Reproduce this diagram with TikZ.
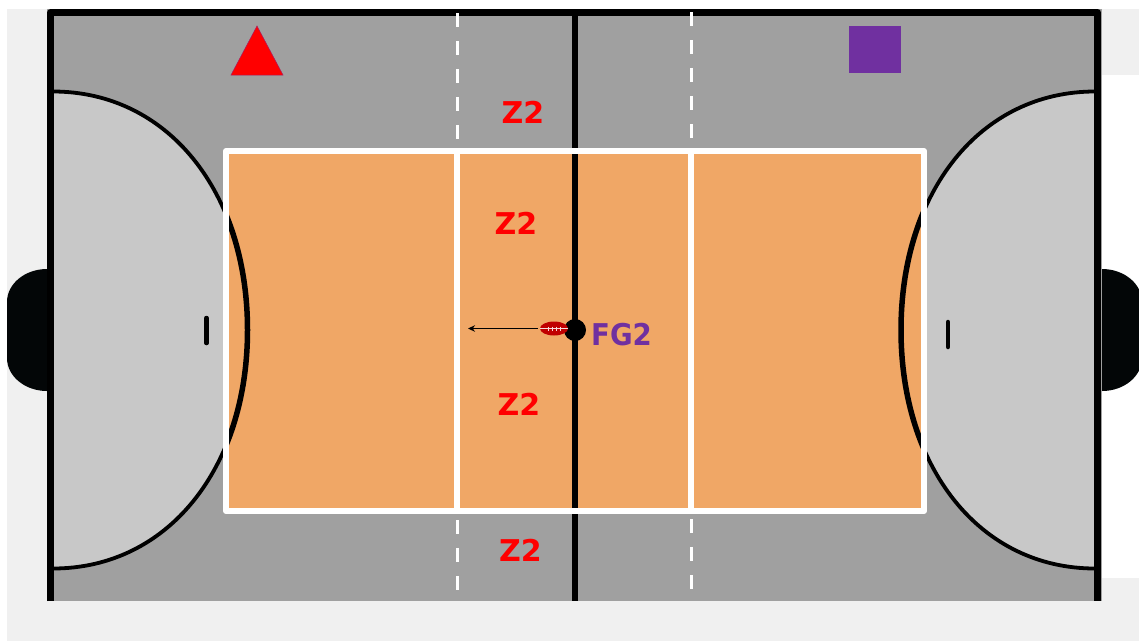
\documentclass[tikz,border=0pt]{standalone}
\usepackage{fontspec}
\setmainfont{DejaVu Sans}
\usetikzlibrary{arrows.meta,shapes.geometric}
\definecolor{pagegrey}{HTML}{F0F0F0}
\definecolor{courtgrey}{HTML}{A0A0A0}
\definecolor{areagrey}{HTML}{C8C8C8}
\definecolor{courtorange}{HTML}{F0A766}
\definecolor{markpurple}{HTML}{7030A0}
\definecolor{goalblack}{HTML}{030607}
\definecolor{ballred}{HTML}{C00000}
\tikzset{
  zonelabel/.style={text=red,font=\bfseries\fontsize{30}{30}\selectfont,inner sep=0pt},
  fglabel/.style={text=markpurple,font=\bfseries\fontsize{30}{30}\selectfont,inner sep=0pt,xscale=.92},
  whitedash/.style={draw=white,line width=3pt,dash pattern=on 14pt off 14pt},
  whiteline/.style={draw=white,line width=6pt},
  blackline/.style={draw=black,line width=6pt},
  keepermark/.style={draw=black,line width=4.5pt,line cap=round},
}
\newcommand{\leftarc}{(53,91.5) .. controls (168,91.5) and (247.5,192) .. (247.5,330) .. controls (247.5,468) and (168,568.5) .. (53,568.5)}
\newcommand{\rightarc}{(1095,91.5) .. controls (980,91.5) and (901,192) .. (901,330) .. controls (901,468) and (980,568.5) .. (1095,568.5)}
\begin{document}
\begin{tikzpicture}[x=1pt,y=-1pt]
\useasboundingbox (0,0) rectangle (1139,641);
\clip (0,0) rectangle (1139,641);
\fill[white] (0,0) rectangle (1139,641);
% page pieces
\fill[pagegrey] (7,9) rectangle (47,641);
\fill[pagegrey] (7,601) rectangle (1139,641);
\fill[pagegrey] (1102,9) rectangle (1139,75);
\fill[pagegrey] (1102,578) rectangle (1139,641);
% goals
\fill[goalblack] (47,269) arc[start angle=270,end angle=180,x radius=40,y radius=33] -- (7,358) arc[start angle=180,end angle=90,x radius=40,y radius=33] -- cycle;
\fill[goalblack] (1102,269) arc[start angle=-90,end angle=0,x radius=40,y radius=33] -- (1142,358) arc[start angle=0,end angle=90,x radius=40,y radius=33] -- cycle;
% court
\fill[courtgrey] (47,9) rectangle (1102,601);
\fill[areagrey] \leftarc -- cycle;
\fill[areagrey] \rightarc -- cycle;
\draw[black,line width=3.8pt] \leftarc;
\draw[black,line width=3.8pt] \rightarc;
% border
\draw[black,line width=7pt,line join=round] (50.5,601) -- (50.5,12.5) -- (1097.5,12.5) -- (1097.5,601);
% centre line and dashes
\draw[blackline] (575,16) -- (575,601);
\draw[whitedash] (457,13) -- (457,140);
\draw[whitedash] (691,12) -- (691,140);
\draw[whitedash] (457,520) -- (457,592);
\draw[whitedash] (691,519) -- (691,591);
% orange
\fill[courtorange] (226,151) rectangle (924,511);
\begin{scope}
\clip (226,151) rectangle (924,511);
\draw[black,line width=5.5pt] \leftarc;
\draw[black,line width=5.5pt] \rightarc;
\end{scope}
\draw[blackline] (575,151) -- (575,511);
\draw[whiteline] (457,151) -- (457,511);
\draw[whiteline] (691,151) -- (691,511);
\draw[draw=white,line width=6pt,line join=round] (226,151) rectangle (924,511);
% keeper marks
\draw[keepermark] (206.5,318) -- (206.5,343);
\draw[keepermark] (948,322) -- (948,347);
% markers
\fill[red,draw=markpurple!60!red,line width=.5pt] (257,26) -- (283,75) -- (231,75) -- cycle;
\fill[markpurple] (849,26) rectangle (901,73);
% dot, ball, arrow
\node[circle,fill=black,minimum size=22pt,inner sep=0pt] (dot) at (575,330) {};
\node[ellipse,fill=ballred,minimum width=28pt,minimum height=14pt,inner sep=0pt] (ball) at (554,328.5) {};
\coordinate (tip) at (468,328.5);
\draw[-{Stealth[length=7pt,width=6.5pt]},black,line width=1.3pt,shorten <=2pt] (ball.west) -- (tip);
\draw[white!85!ballred,line width=.7pt] (ball.west) -- (ball.east);
\foreach \x in {548,552,556,560}{\draw[white!85!ballred,line width=.6pt] (\x,326.5) -- (\x,330.5);}
% text
\node[zonelabel] (z1) at (523,112) {Z2};
\node[zonelabel] (z2) at (516,223) {Z2};
\node[zonelabel] (z3) at (519,404) {Z2};
\node[zonelabel] (z4) at (520.5,550) {Z2};
\node[fglabel] (fg) at (621.5,335) {FG2};
\end{tikzpicture}
\end{document}
